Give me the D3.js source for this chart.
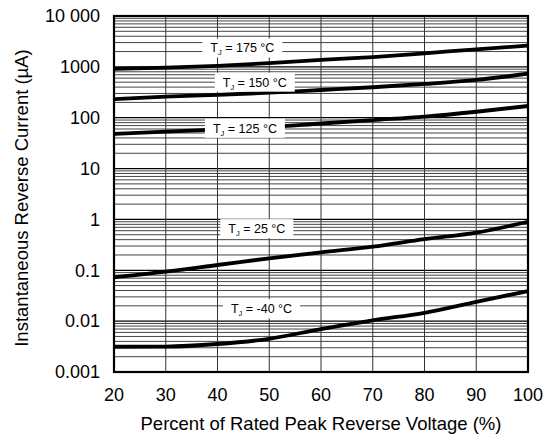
<!DOCTYPE html>
<html><head><meta charset="utf-8">
<script src="https://cdn.jsdelivr.net/npm/d3@7"></script>
<style>body{margin:0;background:#fff}svg{display:block}text{font-family:"Liberation Sans",Arial,sans-serif;fill:#000}</style>
</head><body><svg id="c" width="546" height="437"></svg>
<script>
const percent = [20, 30, 40, 50, 60, 70, 80, 90, 100];
const t175 = [910, 965, 1050, 1180, 1370, 1560, 1850, 2210, 2610];
const t150 = [231, 260, 281, 311, 351, 397, 461, 553, 735];
const t125 = [48, 53.5, 58.6, 65.6, 77, 90, 105, 131, 170];
const t25 = [0.073, 0.094, 0.127, 0.172, 0.226, 0.291, 0.41, 0.55, 0.90];
const tm40 = [0.00314, 0.00316, 0.00355, 0.0045, 0.0070, 0.0104, 0.0146, 0.024, 0.039];
const seriesNames = ["175", "150", "125", "25", "-40"];
const labelPct = [44.8, 47.2, 45.3, 47.6, 48.5];
const labelVal = [2350, 500, 62, 0.66, 0.0175];
const yTickLabels = ["0.001", "0.01", "0.1", "1", "10", "100", "1000", "10 000"];
const yTickValues = [0.001, 0.01, 0.1, 1, 10, 100, 1000, 10000];

const svg = d3.select("#c");
const L = 114, R = 528, T = 16, B = 372;
const x = d3.scaleLinear().domain([20, 100]).range([L, R]);
const y = d3.scaleLog().domain([0.001, 10000]).range([B, T]);

// grid
const g = svg.append("g");
const minors = [];
for (let e = -3; e < 4; e++) for (let m = 2; m <= 9; m++) minors.push(m * Math.pow(10, e));
g.selectAll(".hm").data(minors).enter().append("line")
  .attr("x1", L).attr("x2", R).attr("y1", d => y(d)).attr("y2", d => y(d))
  .attr("stroke", "#444").attr("stroke-width", 1);
g.selectAll(".hM").data(yTickValues).enter().append("line")
  .attr("x1", L).attr("x2", R).attr("y1", d => y(d)).attr("y2", d => y(d))
  .attr("stroke", "#000").attr("stroke-width", 1.2);
g.selectAll(".v").data(percent.slice(1, -1)).enter().append("line")
  .attr("x1", d => x(d)).attr("x2", d => x(d)).attr("y1", T).attr("y2", B)
  .attr("stroke", "#333").attr("stroke-width", 1);

// curves
const all = [t175, t150, t125, t25, tm40];
const line = d3.line().x((d, i) => x(percent[i])).y(d => y(d)).curve(d3.curveMonotoneX);
svg.selectAll(".c").data(all).enter().append("path")
  .attr("d", d => line(d)).attr("fill", "none").attr("stroke", "#000").attr("stroke-width", 3.8);

// labels
seriesNames.forEach((n, i) => {
  const lg = svg.append("g").attr("transform", `translate(${x(labelPct[i])},${y(labelVal[i])})`);
  const rect = lg.append("rect").attr("fill", "#fff");
  const t = lg.append("text").attr("text-anchor", "middle").attr("dy", "0.35em").attr("font-size", 12.5);
  t.append("tspan").text("T");
  t.append("tspan").attr("font-size", 7.5).attr("dy", "3").text("J");
  t.append("tspan").attr("dy", "-3").text(" = " + n + " °C");
  const bb = t.node().getBBox();
  rect.attr("x", bb.x - 8).attr("y", -9.5).attr("width", bb.width + 16).attr("height", 19);
});

// border
svg.append("rect").attr("x", L).attr("y", T).attr("width", R - L).attr("height", B - T)
  .attr("fill", "none").attr("stroke", "#000").attr("stroke-width", 2.2);

// axes labels
svg.selectAll(".yt").data(yTickValues).enter().append("text")
  .attr("x", 100).attr("y", d => y(d)).attr("dy", "0.35em").attr("text-anchor", "end")
  .attr("font-size", 18).text((d, i) => yTickLabels[i]);
svg.selectAll(".xt").data(percent).enter().append("text")
  .attr("x", d => x(d)).attr("y", 401).attr("text-anchor", "middle")
  .attr("font-size", 18).text(d => d);
svg.append("text").attr("x", 321).attr("y", 430).attr("text-anchor", "middle")
  .attr("font-size", 18.5).text("Percent of Rated Peak Reverse Voltage (%)");
svg.append("text").attr("transform", `translate(28,${(T + B) / 2 + 4}) rotate(-90)`).attr("text-anchor", "middle")
  .attr("font-size", 18.5).text("Instantaneous Reverse Current (µA)");
</script></body></html>
